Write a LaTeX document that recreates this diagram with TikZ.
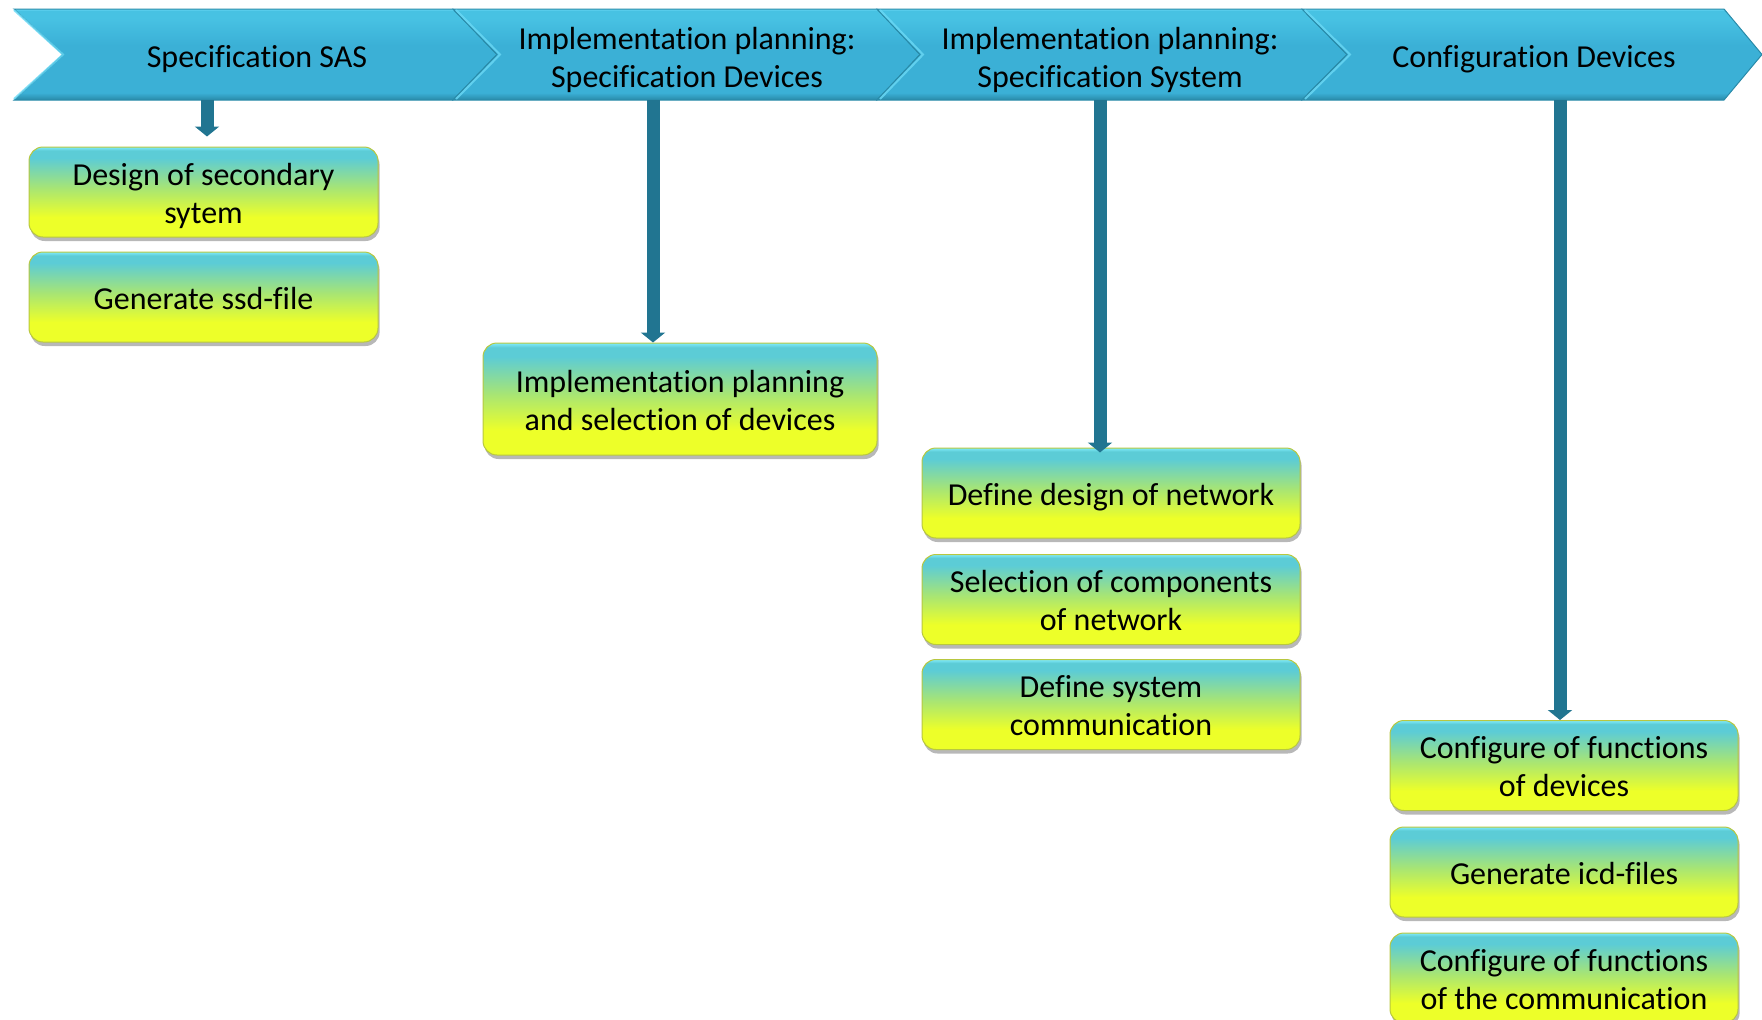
\documentclass[tikz,border=0pt]{standalone}
\usepackage{fontspec}
\setmainfont{Carlito}[Ligatures={NoCommon,NoContextual}]
\usetikzlibrary{arrows.meta,shadows}
\definecolor{byel}{rgb}{0.93,1.0,0.16}
\definecolor{bgrn}{rgb}{0.66,0.90,0.45}
\definecolor{bcyn}{rgb}{0.36,0.80,0.84}
\definecolor{btop}{rgb}{0.50,0.92,0.98}
\definecolor{boxedge}{rgb}{0.72,0.78,0.25}
\definecolor{bandark}{rgb}{0.16,0.54,0.66}
\definecolor{banmid}{rgb}{0.23,0.69,0.84}
\definecolor{banlight}{rgb}{0.28,0.76,0.89}
\definecolor{bantop}{rgb}{0.42,0.85,0.96}
\definecolor{arrcol}{rgb}{0.13,0.46,0.57}
\pgfdeclareverticalshading{boxshade}{100bp}{color(0bp)=(byel); color(25bp)=(byel); color(36bp)=(byel); color(52bp)=(bgrn); color(69bp)=(bcyn); color(73bp)=(bcyn); color(75bp)=(btop); color(100bp)=(btop)}
\pgfdeclareverticalshading{banshade}{100bp}{color(0bp)=(bandark); color(25bp)=(bandark); color(29bp)=(banmid); color(55bp)=(banmid); color(70bp)=(banlight); color(74bp)=(banlight); color(75bp)=(bantop); color(100bp)=(bantop)}
\newcommand\lowtxt[1]{\raisebox{-2.4pt}[\height][\depth]{\begin{tabular}{@{}c@{}}#1\end{tabular}}}
\tikzset{
  txt/.style={font=\fontsize{16}{19}\selectfont, align=center, inner sep=0pt},
  box/.style={txt, shape=rectangle, rounded corners=7pt, shade, shading=boxshade,
    draw=boxedge, line width=0.5pt, minimum height=45pt,
    drop shadow={shadow xshift=0.8pt, shadow yshift=-2pt, opacity=0.28, fill=black}},
  seg/.style={shade, shading=banshade, draw=bandark, line width=0.5pt},
  arr/.style={draw=arrcol, line width=6.5pt, -{Triangle[width=12pt,length=5pt]}},
  notchline/.style={draw=bantop, line width=1pt, opacity=0.8}
}
\begin{document}
\begin{tikzpicture}[x=0.5pt,y=-0.5pt]
\useasboundingbox (0,0) rectangle (1762,1019);
\clip (0,0) rectangle (1762,1019);
% banner segments
\path[seg] (14,9) -- (453,9) -- (497,54.5) -- (453,100) -- (14,100) -- (63,54.5) -- cycle;
\path[seg] (453,9) -- (877,9) -- (920,54.5) -- (877,100) -- (453,100) -- (497,54.5) -- cycle;
\path[seg] (877,9) -- (1302,9) -- (1347,54.5) -- (1302,100) -- (877,100) -- (920,54.5) -- cycle;
\path[seg] (1302,9) -- (1724,9) -- (1762,54.5) -- (1724,100) -- (1302,100) -- (1347,54.5) -- cycle;
\path[notchline] (14,10) -- (63,54.5) -- (14,99);
\path[notchline] (456,10) -- (500,54.5) -- (456,99);
\path[notchline] (880,10) -- (923,54.5) -- (880,99);
\path[notchline] (1305,10) -- (1350,54.5) -- (1305,99);
% banner texts
\node[txt] (s1) at (257,59.5) {Specification SAS};
\node[txt] (s2) at (687,60) {Implementation planning:\\Specification Devices};
\node[txt] (s3) at (1110,60) {Implementation planning:\\Specification System};
\node[txt] (s4) at (1534,59.5) {Configuration Devices};
% arrow start points at banner bottom
\coordinate (a1) at (207,100);
\coordinate (a2) at (653,100);
\coordinate (a3) at (1100,100);
\coordinate (a4) at (1560,100);
% boxes
\node[box, minimum width=174.5pt] (b1) at (203.5,192) {\lowtxt{Design of secondary\\sytem}};
\node[box, minimum width=174.5pt] (b2) at (203.5,297) {\lowtxt{Generate ssd-file}};
\node[box, minimum width=197pt, minimum height=56pt] (b3) at (680,399) {\lowtxt{Implementation planning\\and selection of devices}};
\node[box, minimum width=189pt] (b4) at (1111,493) {\lowtxt{Define design of network}};
\node[box, minimum width=189pt] (b5) at (1111,599.5) {\lowtxt{Selection of components\\of network}};
\node[box, minimum width=189pt] (b6) at (1111,704.5) {\lowtxt{Define system\\communication}};
\node[box, minimum width=174pt] (b7) at (1564,765.5) {\lowtxt{Configure of functions\\of devices}};
\node[box, minimum width=174pt] (b8) at (1564,872) {\lowtxt{Generate icd-files}};
\node[box, minimum width=174pt] (b9) at (1564,978) {\lowtxt{Configure of functions\\of the communication}};
% arrows
\draw[arr, shorten >=5pt] (a1) -- (a1 |- b1.north);
\draw[arr] (a2) -- (a2 |- b3.north);
\draw[arr, shorten >=-2.5pt] (a3) -- (a3 |- b4.north);
\draw[arr] (a4) -- (a4 |- b7.north);
\end{tikzpicture}
\end{document}
